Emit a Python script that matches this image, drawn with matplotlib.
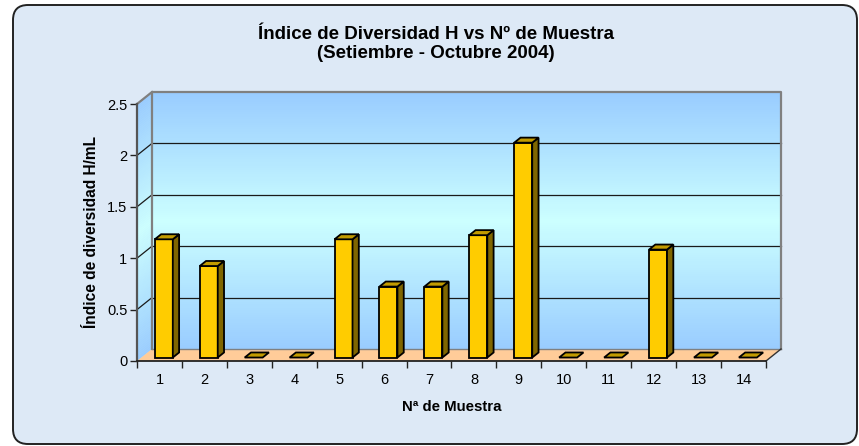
import matplotlib
matplotlib.use("Agg")
import matplotlib.pyplot as plt
from matplotlib.patches import Polygon, FancyBboxPatch
from matplotlib.transforms import IdentityTransform
import numpy as np

plt.rcParams['font.family'] = ['Liberation Sans', 'DejaVu Sans']

# ---- data ----
muestras = ['1', '2', '3', '4', '5', '6', '7', '8', '9', '10', '11', '12', '13', '14']
indice_h = [1.15, 0.89, 0, 0, 1.15, 0.69, 0.69, 1.19, 2.09, 0, 0, 1.05, 0, 0]
y_ticks = [0, 0.5, 1, 1.5, 2, 2.5]
y_tick_labels = ['0', '0.5', '1', '1.5', '2', '2.5']

title = "Índice de Diversidad H vs Nº de Muestra\n(Setiembre - Octubre 2004)"
xlabel = "Nª de Muestra"
ylabel = "Índice de diversidad H/mL"

W, H = 859, 446
fig = plt.figure(figsize=(W / 100, H / 100), dpi=100)
fig.patch.set_facecolor('white')

# background panel with rounded border (pixel coordinates)
bg = FancyBboxPatch((13, H - 444), 857 - 13, 444 - 5,
                    boxstyle="round,pad=0,rounding_size=15",
                    transform=IdentityTransform(), facecolor='#DDE9F6',
                    edgecolor='#222222', linewidth=1.4, zorder=-5)
fig.patches.append(bg)

# front axes rectangle (pixels): x 137..766, y 104..361
x0, x1, ytop, ybot = 137, 766, 104, 361
ax = fig.add_axes([x0 / W, (H - ybot) / H, (x1 - x0) / W, (ybot - ytop) / H])
ax.set_zorder(2)
ax.set_facecolor('none')
n = len(muestras)
ymax = 2.5
ax.set_xlim(0, n)
ax.set_ylim(0, ymax)

# depth offset expressed in data units (15 px right, 12 px up)
DX = 15 / ((x1 - x0) / n)
DY = 12 / ((ybot - ytop) / ymax)

def P(x, y, d):
    return (x + d * DX, y + d * DY)

# back wall gradient
top_c = np.array([153, 204, 255]) / 255
mid_c = np.array([204, 255, 255]) / 255
bot_c = np.array([153, 204, 255]) / 255
nstrips = 120
for k in range(nstrips):
    ya = ymax * k / nstrips
    yb = ymax * (k + 1) / nstrips
    t = (ya + yb) / 2 / ymax
    tm = 0.5
    if t < tm:
        c = bot_c + (mid_c - bot_c) * (t / tm)
    else:
        c = mid_c + (top_c - mid_c) * ((t - tm) / (1 - tm))
    ax.add_patch(Polygon([P(0, ya, 1), P(n, ya, 1), P(n, yb, 1), P(0, yb, 1)],
                         closed=True, facecolor=c, edgecolor=c, lw=0.3,
                         clip_on=False, zorder=1))
    ax.add_patch(Polygon([P(0, ya, 0), P(0, ya, 1), P(0, yb, 1), P(0, yb, 0)],
                         closed=True, facecolor=c, edgecolor=c, lw=0.3,
                         clip_on=False, zorder=1))

# floor
ax.add_patch(Polygon([P(0, 0, 0), P(n, 0, 0), P(n, 0, 1), P(0, 0, 1)],
                     closed=True, facecolor='#FFCC99', edgecolor='none',
                     clip_on=False, zorder=1.5))

# gridlines on back wall and side wall
for yv in y_ticks[1:-1]:
    ax.plot([P(0, yv, 1)[0], P(n, yv, 1)[0]], [P(0, yv, 1)[1], P(n, yv, 1)[1]],
            color='#1a1a1a', lw=0.9, clip_on=False, zorder=2)
    ax.plot([P(0, yv, 0)[0], P(0, yv, 1)[0]], [P(0, yv, 0)[1], P(0, yv, 1)[1]],
            color='#1a1a1a', lw=0.9, clip_on=False, zorder=2)

# wall outline (gray)
wall_col = '#808080'
bw = [P(0, 0, 1), P(0, ymax, 1), P(n, ymax, 1), P(n, 0, 1)]
ax.plot([p[0] for p in bw], [p[1] for p in bw], color=wall_col, lw=1.6,
        clip_on=False, zorder=2.2)
ax.plot([P(0, ymax, 0)[0], P(0, ymax, 1)[0]], [P(0, ymax, 0)[1], P(0, ymax, 1)[1]],
        color=wall_col, lw=1.6, clip_on=False, zorder=2.2)
ax.plot([P(0, 0, 1)[0], P(n, 0, 1)[0]], [P(0, 0, 1)[1], P(n, 0, 1)[1]],
        color=wall_col, lw=1.0, clip_on=False, zorder=2.2)
ax.plot([P(n, 0, 0)[0], P(n, 0, 1)[0]], [P(n, 0, 0)[1], P(n, 0, 1)[1]],
        color='#333333', lw=1.0, clip_on=False, zorder=2.2)

# bars (3D look)
f_front = 0.29
f_back = 0.71
half_w = 0.2
front_c, side_c, top_face_c = '#FFCC00', '#806600', '#C29B00'
for i, v in enumerate(indice_h):
    xc = i + 0.5
    xl, xr = xc - half_w, xc + half_w
    kw = dict(closed=True, edgecolor='black', lw=1.3, clip_on=False,
              joinstyle='miter', zorder=3)
    if v > 0:
        ax.add_patch(Polygon([P(xl, 0, f_front), P(xr, 0, f_front),
                              P(xr, v, f_front), P(xl, v, f_front)],
                             facecolor=front_c, **kw))
        ax.add_patch(Polygon([P(xr, 0, f_front), P(xr, 0, f_back),
                              P(xr, v, f_back), P(xr, v, f_front)],
                             facecolor=side_c, **kw))
    ax.add_patch(Polygon([P(xl, v, f_front), P(xr, v, f_front),
                          P(xr, v, f_back), P(xl, v, f_back)],
                         facecolor=top_face_c, **kw))

# axes spines and ticks
for s in ['top', 'right']:
    ax.spines[s].set_visible(False)
ax.spines['left'].set_color('#555555')
ax.spines['left'].set_linewidth(1.6)
ax.spines['bottom'].set_color('#222222')
ax.spines['bottom'].set_linewidth(1.3)
for s in ['left', 'bottom']:
    ax.spines[s].set_zorder(4)

ax.set_yticks(y_ticks)
ax.set_yticklabels(y_tick_labels, fontsize=10.5)
ax.tick_params(axis='y', direction='out', length=5, width=1.0, color='#222222', pad=2)

ax.set_xticks(np.arange(0, n + 1))
ax.set_xticklabels([])
ax.tick_params(axis='x', which='major', direction='out', length=5, width=1.0, color='#222222')
ax.set_xticks(np.arange(n) + 0.5, minor=True)
ax.set_xticklabels(muestras, minor=True, fontsize=10.5)
ax.tick_params(axis='x', which='minor', length=0, pad=9)

ax.set_xlabel(xlabel, fontsize=10.8, fontweight='bold', labelpad=9)
ax.set_ylabel(ylabel, fontsize=11.2, fontweight='bold', labelpad=6)

fig.text(436 / W, 1 - 44 / H, title, ha='center', va='center',
         fontsize=13.5, fontweight='bold', linespacing=1.2)

fig.savefig('out.png', dpi=100)
